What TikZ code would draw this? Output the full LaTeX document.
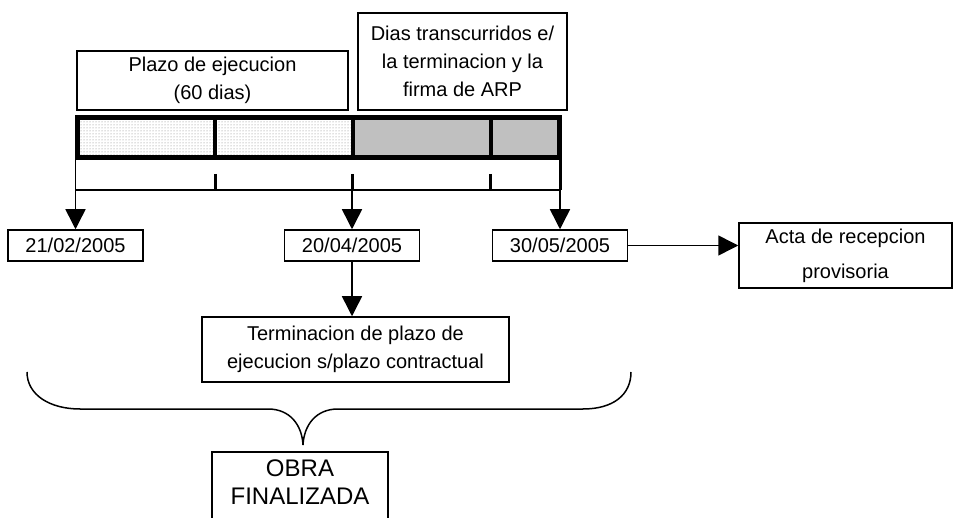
\documentclass[tikz,border=0pt]{standalone}
\usepackage{fontspec}
\setmainfont{Liberation Sans}
\usepackage{xcolor}
\usetikzlibrary{positioning, arrows.meta, patterns}
\definecolor{barGray}{RGB}{192,192,192}

\begin{document}
\begin{tikzpicture}[x=1pt, y=-1pt, every node/.style={font=\fontsize{20}{28}\selectfont, align=center},
    boxnode/.style={draw, line width=1.5pt, inner sep=2pt},
    datenode/.style={boxnode, minimum width=135pt, minimum height=31pt},
    arrow/.style={-{Triangle[length=20pt, width=20pt]}, line width=1.5pt},
    tickline/.style={line width=3pt}]

    \useasboundingbox (0,0) rectangle (953,518);
    \clip (0,0) rectangle (953,518);

    % Nodes
    \node[boxnode, minimum width=271pt, minimum height=59pt] (plazo) at (212.5,80.5) {Plazo de ejecucion\\(60 dias)};
    \node[boxnode, minimum width=209pt, minimum height=97pt] (dias) at (462.5,61.5) {Dias transcurridos e/\\la terminacion y la\\firma de ARP};

    \node[datenode] (d1) at (75.5,245.5) {21/02/2005};
    \node[datenode] (d2) at (352,245.5) {20/04/2005};
    \node[datenode] (d3) at (560,245.5) {30/05/2005};
    \node[boxnode, minimum width=213pt, minimum height=65pt] (acta) at (845.5,255.5) {Acta de recepcion\\[7pt]provisoria};
    \node[boxnode, minimum width=307pt, minimum height=65pt] (term) at (355.5,349.5) {Terminacion de plazo de\\ejecucion s/plazo contractual};
    \node[boxnode, anchor=north, inner ysep=8pt, minimum width=176pt, font=\fontsize{24}{28}\selectfont] (obra) at (300,451) {OBRA\\FINALIZADA\\[30pt]\strut};

    % Bar
    \fill[white] (77.5,117.5) rectangle (352.5,157.5);
    \fill[pattern=dots, pattern color=gray] (77.5,117.5) rectangle (352.5,157.5);
    \fill[barGray] (352.5,117.5) rectangle (559.5,157.5);
    \draw[line width=5pt] (77.5,117.5) rectangle (559.5,157.5);
    \foreach \x in {215, 352.5, 490.5}
        \draw[line width=4pt] (\x,117.5) -- (\x,157.5);

    \coordinate (b1) at (75.5,160);
    \coordinate (b3) at (560,160);
    \coordinate (t2) at (352,174);
    \coordinate (tip) at (303,445);

    % Scale
    \draw[line width=2.5pt] (75.5,190) -- (560,190);
    \foreach \x in {215, 490.5}
        \draw[tickline] (\x,174) -- (\x,190);
    \draw[tickline] (t2) -- (352,190);
    \draw[tickline] (b3) -- (560,190);

    % Arrows
    \draw[arrow] (b1) -- (d1);
    \draw[arrow] (t2) -- (d2);
    \draw[arrow] (b3) -- (d3);
    \draw[arrow] (d3.east) -- (d3.east -| acta.west);
    \draw[arrow] (d2) -- (d2 |- term.north);

    % Brace
    \draw[line width=1.5pt] (27,372) .. controls (27,395) and (50,409) .. (80,409) -- (268,409)
        .. controls (290,409) and (302,425) .. (tip)
        .. controls (304,425) and (316,409) .. (338,409) -- (583,409)
        .. controls (613,409) and (631,395) .. (631,372);

\end{tikzpicture}
\end{document}
